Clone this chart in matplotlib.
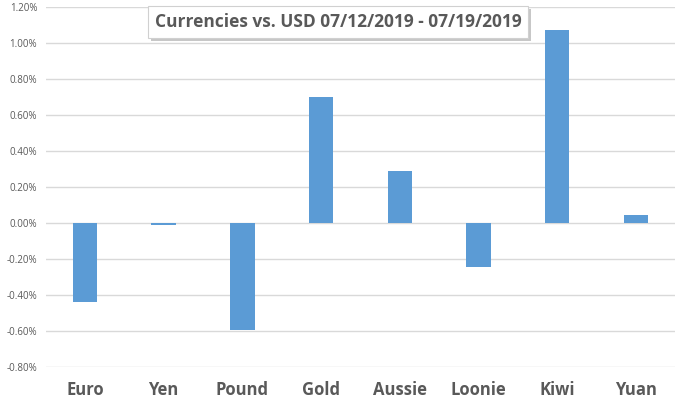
import matplotlib
matplotlib.use("Agg")
import matplotlib.pyplot as plt
from matplotlib.ticker import FuncFormatter
from matplotlib.patches import Rectangle

categories = ["Euro", "Yen", "Pound", "Gold", "Aussie", "Loonie", "Kiwi", "Yuan"]
values = [-0.44, -0.01, -0.595, 0.70, 0.29, -0.245, 1.07, 0.045]
yticks = [-0.8, -0.6, -0.4, -0.2, 0.0, 0.2, 0.4, 0.6, 0.8, 1.0, 1.2]
title = "Currencies vs. USD 07/12/2019 - 07/19/2019"

fig = plt.figure(figsize=(6.8, 4.01), dpi=100)
ax = fig.add_axes([0.067, 0.0855, 0.926, 0.8975])
x = range(len(categories))
ax.bar(x, values, width=0.31, color="#5B9BD5", zorder=3)
ax.set_xlim(-0.5, len(categories) - 0.5)
ax.set_ylim(-0.8, 1.2)
ax.set_yticks(yticks)
ax.yaxis.set_major_formatter(FuncFormatter(lambda v, p: f"{v:.2f}%"))
ax.grid(axis="y", color="#D9D9D9", linewidth=1, zorder=0)
for s in ax.spines.values():
    s.set_visible(False)
ax.tick_params(axis="both", length=0)
ax.tick_params(axis="y", labelsize=7, labelcolor="#595959", pad=6)
ax.set_xticks(list(x))
ax.set_xticklabels(categories, fontsize=12, fontweight="bold", color="#595959",
                   family="Open Sans")
ax.tick_params(axis="x", pad=10)
for lab in ax.get_yticklabels():
    lab.set_family("Open Sans")

tx, ty = 0.497, 0.946
t = fig.text(tx, ty, title, ha="center", va="center", fontsize=12.5,
             fontweight="bold", color="#595959", family="Open Sans",
             bbox=dict(boxstyle="square,pad=0.4", facecolor="white",
                       edgecolor="#D0D0D0", linewidth=0.8),
             zorder=10)
fig.canvas.draw()
bb = t.get_bbox_patch().get_window_extent(fig.canvas.get_renderer())
W, H = fig.bbox.width, fig.bbox.height
fig.patches.append(Rectangle(((bb.x0 + 3) / W, (bb.y0 - 3.5) / H),
                             bb.width / W, bb.height / H,
                             transform=fig.transFigure, facecolor="#B0B0B0",
                             edgecolor="none", alpha=0.7, zorder=9))
fig.savefig("out.png", dpi=100)
